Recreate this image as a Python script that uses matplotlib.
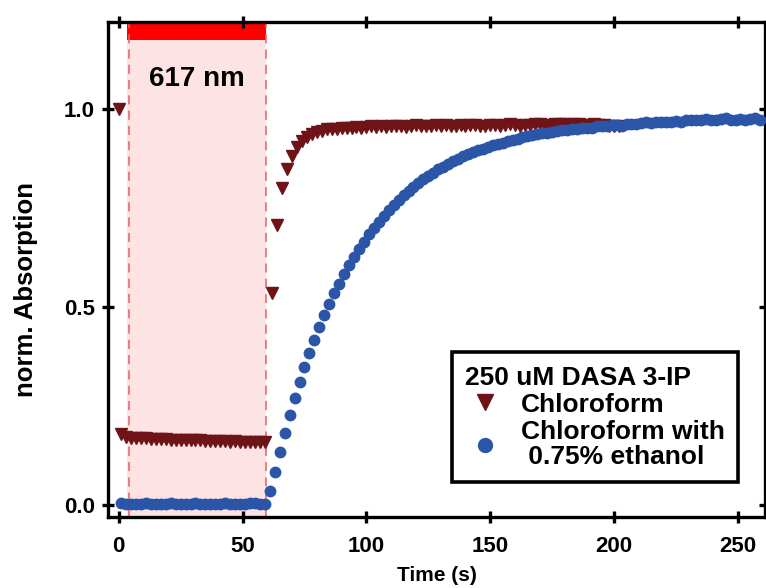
import numpy as np
import matplotlib
matplotlib.use('Agg')
import matplotlib.pyplot as plt
from matplotlib.lines import Line2D

plt.rcParams['font.family'] = ['Liberation Sans', 'DejaVu Sans']
plt.rcParams['font.weight'] = 'bold'

# Chloroform (triangles)
chl_t = [0] + list(range(1, 60, 2)) + list(range(62, 203, 2))
chl_y = [1.000,
         0.180, 0.172, 0.170, 0.169, 0.168, 0.168, 0.167, 0.167, 0.166, 0.166,
         0.165, 0.165, 0.164, 0.164, 0.164, 0.163, 0.163, 0.162, 0.162, 0.162,
         0.161, 0.161, 0.160, 0.161, 0.160, 0.159, 0.159, 0.159, 0.158, 0.158,
         0.535, 0.708, 0.801, 0.848, 0.881, 0.905, 0.920, 0.930, 0.937, 0.942,
         0.945, 0.948, 0.950, 0.950, 0.952, 0.951, 0.953, 0.954, 0.952, 0.955,
         0.956, 0.954, 0.957, 0.955, 0.956, 0.958, 0.957, 0.955, 0.958, 0.959,
         0.957, 0.956, 0.958, 0.959, 0.957, 0.960, 0.958, 0.957, 0.959, 0.958,
         0.960, 0.959, 0.957, 0.958, 0.960, 0.959, 0.958, 0.960, 0.961, 0.959,
         0.958, 0.960, 0.959, 0.961, 0.962, 0.960, 0.959, 0.961, 0.963, 0.961,
         0.960, 0.962, 0.961, 0.959, 0.960, 0.962, 0.960, 0.959, 0.958, 0.957,
         0.956]

# Chloroform with 0.75% ethanol (circles)
eth_t = list(range(1, 260, 2))
eth_y = [0.004, 0.003, 0.003, 0.002, 0.003, 0.004, 0.003, 0.002, 0.003, 0.003,
         0.004, 0.003, 0.002, 0.003, 0.003, 0.004, 0.003, 0.003, 0.002, 0.003,
         0.003, 0.004, 0.003, 0.002, 0.003, 0.003, 0.004, 0.005, 0.003, 0.003,
         0.036, 0.082, 0.133, 0.181, 0.227, 0.269, 0.310, 0.348, 0.384, 0.417,
         0.449, 0.479, 0.508, 0.534, 0.559, 0.583, 0.606, 0.627, 0.647, 0.665,
         0.683, 0.700, 0.715, 0.730, 0.744, 0.757, 0.770, 0.782, 0.793, 0.803,
         0.813, 0.822, 0.831, 0.839, 0.847, 0.854, 0.861, 0.868, 0.874, 0.880,
         0.885, 0.890, 0.895, 0.900, 0.904, 0.908, 0.912, 0.915, 0.919, 0.922,
         0.925, 0.928, 0.931, 0.933, 0.936, 0.938, 0.940, 0.942, 0.944, 0.946,
         0.947, 0.950, 0.949, 0.952, 0.953, 0.952, 0.956, 0.957, 0.956, 0.959,
         0.960, 0.958, 0.961, 0.963, 0.962, 0.964, 0.966, 0.964, 0.966, 0.968,
         0.967, 0.968, 0.970, 0.968, 0.971, 0.973, 0.971, 0.972, 0.975, 0.973,
         0.971, 0.974, 0.976, 0.973, 0.972, 0.975, 0.971, 0.974, 0.977, 0.972]

# irradiation window (617 nm)
light_on = 3.5
light_off = 59.6

red = '#6e1419'
blue = '#2b56a8'

fig = plt.figure(figsize=(7.66, 5.88), dpi=100)
ax = fig.add_axes([0.141, 0.121, 0.858, 0.842])

ax.axvspan(light_on, light_off, color='#fde3e3', lw=0, zorder=0)
ax.axvspan(light_on, light_off, ymin=0.964, ymax=1.0, color='#ff0000', lw=0, zorder=1)
for xv in (light_on + 0.6, light_off - 0.2):
    ax.axvline(xv, color='#e4606a', lw=1.1, ls=(0, (6, 4)), zorder=1)
ax.text(31.5, 1.075, '617 nm', fontsize=20, fontweight='bold', ha='center', va='center')

ax.plot(chl_t, chl_y, ls='none', marker='v', ms=9, color=red, mec=red, zorder=3)
ax.plot(eth_t, eth_y, ls='none', marker='o', ms=7.5, color=blue, mec=blue, zorder=4)

ax.set_xlim(-4.3, 261)
ax.set_ylim(-0.03, 1.22)
ax.set_xticks([0, 50, 100, 150, 200, 250])
ax.set_yticks([0.0, 0.5, 1.0])
ax.set_yticklabels(['0.0', '0.5', '1.0'])

for s in ax.spines.values():
    s.set_linewidth(2.4)
ax.tick_params(direction='inout', length=9, width=2.4, labelsize=16,
               top=True, right=True)
ax.tick_params(axis='x', pad=9)
ax.tick_params(axis='y', pad=5)
for lab in ax.get_xticklabels() + ax.get_yticklabels():
    lab.set_fontweight('bold')

ax.set_xlabel('Time (s)', fontsize=15, fontweight='bold', labelpad=7)
ax.set_ylabel('norm. Absorption', fontsize=18.5, fontweight='bold')
ax.yaxis.set_label_coords(-0.107, 0.459)

handles = [Line2D([], [], ls='none', marker='v', ms=12, color=red),
           Line2D([], [], ls='none', marker='o', ms=10, color=blue)]
leg = ax.legend(handles, ['Chloroform', 'Chloroform with\n 0.75% ethanol'],
                title='250 uM DASA 3-IP', loc='lower left',
                bbox_to_anchor=(452 / 766, 1 - 482 / 588),
                bbox_transform=fig.transFigure, borderaxespad=0,
                prop={'size': 19, 'weight': 'bold'},
                title_fontproperties={'size': 19, 'weight': 'bold'},
                fancybox=False, framealpha=1, edgecolor='black',
                handlelength=1.5, handletextpad=0.6, labelspacing=0.12,
                borderpad=0.5)
leg._legend_box.align = 'left'
leg.get_frame().set_linewidth(2.6)
for txt in leg.get_texts():
    txt.set_linespacing(1.05)

fig.savefig('out.png', dpi=100)
